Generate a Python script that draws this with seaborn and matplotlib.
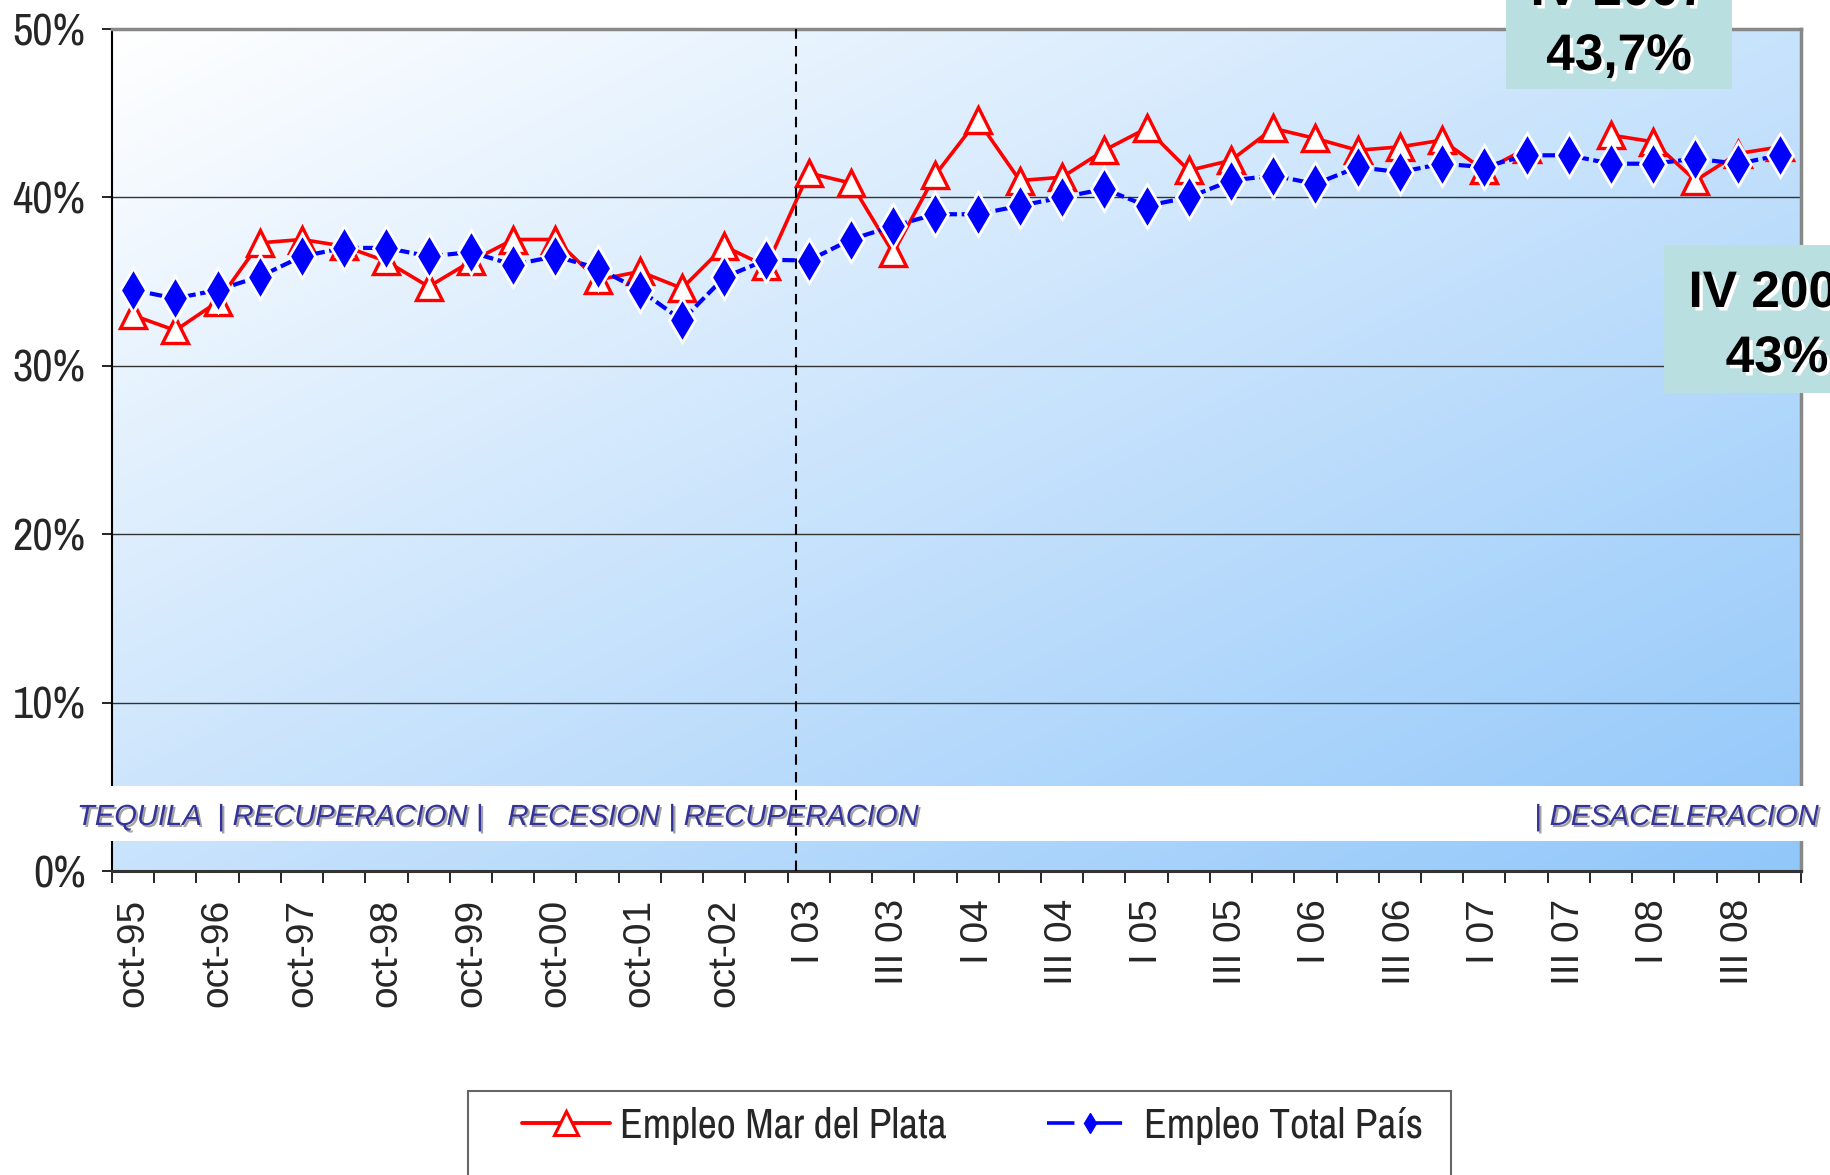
import os
import matplotlib
matplotlib.use('Agg')
import matplotlib.pyplot as plt
import matplotlib.patheffects as pe
import numpy as np
import pandas as pd
import seaborn as sns
from matplotlib import font_manager as fm
from matplotlib.lines import Line2D
from matplotlib.patches import Rectangle
from matplotlib.transforms import blended_transform_factory

# ======== Datos ========

periodos = ['oct-95', 'may-96', 'oct-96', 'may-97', 'oct-97', 'may-98', 'oct-98', 'may-99',
            'oct-99', 'may-00', 'oct-00', 'may-01', 'oct-01', 'may-02', 'oct-02', 'may-03',
            'I 03', 'II 03', 'III 03', 'IV 03', 'I 04', 'II 04', 'III 04', 'IV 04',
            'I 05', 'II 05', 'III 05', 'IV 05', 'I 06', 'II 06', 'III 06', 'IV 06',
            'I 07', 'II 07', 'III 07', 'IV 07', 'I 08', 'II 08', 'III 08', 'IV 08']

# tasa de empleo (%)
mar_del_plata = [33.0, 32.1, 33.8, 37.3, 37.5, 37.1, 36.2, 34.7, 36.2, 37.5,
                 37.5, 35.1, 35.6, 34.6, 37.1, 35.9, 41.45, 40.85, 36.7, 41.35,
                 44.6, 41.0, 41.2, 42.8, 44.1, 41.6, 42.2, 44.1, 43.5, 42.8,
                 43.0, 43.4, 41.6, 42.9, np.nan, 43.7, 43.3, 41.0, 42.6, 43.0]

total_pais = [34.5, 34.0, 34.5, 35.3, 36.5, 37.0, 37.0, 36.5, 36.75, 36.0,
              36.5, 35.8, 34.5, 32.7, 35.25, 36.3, 36.25, 37.5, 38.3, 39.0,
              39.0, 39.5, 40.0, 40.5, 39.5, 40.0, 41.0, 41.3, 40.8, 41.8,
              41.5, 42.0, 41.8, 42.5, 42.5, 42.0, 42.0, 42.3, 42.0, 42.5]

ticks_y = [0, 10, 20, 30, 40, 50]

etapas_izq = 'TEQUILA  | RECUPERACION |   RECESION | RECUPERACION'
etapas_der = '| DESACELERACION'

nota_1 = ['IV 2007', '43,7%']
nota_2 = ['IV 2008', '43%']

series = ['Empleo Mar del Plata', 'Empleo Total País']

# ======== Estilo ========

sns.set_theme(style='white')
plt.rcParams['font.family'] = ['Liberation Sans', 'DejaVu Sans']


# busca la fuente más angosta disponible (tipo Arial Narrow)
def rango_fuente(f):
    base = os.path.basename(f.fname)
    if f.style != 'normal' or f.weight not in (400, 'normal', 'regular', 'book'):
        return None
    st = str(f.stretch)
    if 'Narrow' in f.name or 'Narrow' in base:
        return 0
    es_dejavu = 'DejaVu' in f.name
    if 'extra-condensed' in st or 'ultra-condensed' in st or 'ExtraCondensed' in base:
        return 1 if not es_dejavu else 4
    if st == 'condensed' or ('Condensed' in base and 'Semi' not in base):
        return 2 if not es_dejavu else 4
    if 'semi-condensed' in st or 'SemiCondensed' in base:
        return 3
    return None


mejor, rango = None, 9
for f in fm.fontManager.ttflist:
    r = rango_fuente(f)
    if r is not None and r < rango:
        mejor, rango = f.fname, r

tam = {0: (32, 30), 1: (32, 30), 2: (30, 28), 3: (29, 27), 4: (28, 26)}
if mejor is not None:
    fp_ticks = fm.FontProperties(fname=mejor, size=tam[rango][0])
    fp_leg = fm.FontProperties(fname=mejor, size=tam[rango][1])
else:
    fp_ticks = fm.FontProperties(family='Liberation Sans', size=27)
    fp_leg = fm.FontProperties(family='Liberation Sans', size=25)

W, H = 1830, 1175
fig = plt.figure(figsize=(W / 100, H / 100), dpi=100)
fig.patch.set_facecolor('white')
ax = fig.add_axes([112 / W, 1 - 871 / H, (1801 - 112) / W, (871 - 29) / H])

# fondo degradado del área de trazado
n = 256
xx, yy = np.meshgrid(np.linspace(0, 1, n), np.linspace(0, 1, n))
t = ((xx + yy) / 2)[..., None]
c0 = np.array([1.0, 1.0, 1.0])
c1 = np.array([0.57, 0.78, 0.98])
grad = c0 * (1 - t) + c1 * t
ax.imshow(grad, extent=(0, 1, 0, 1), transform=ax.transAxes, aspect='auto',
          zorder=-1, interpolation='bilinear')

# ======== Series ========

idx = np.arange(len(periodos))
df_mdp = pd.DataFrame({'x': idx, 'y': mar_del_plata})
df_mdp['tramo'] = df_mdp['y'].isna().cumsum()
df_mdp = df_mdp.dropna()
df_tot = pd.DataFrame({'x': idx, 'y': total_pais})

sns.lineplot(data=df_mdp, x='x', y='y', units='tramo', estimator=None, ax=ax,
             color='red', lw=2.6, marker='^', ms=19, mfc='white', mec='red',
             mew=2.4, legend=False, zorder=3)
sns.lineplot(data=df_tot, x='x', y='y', ax=ax, color='blue', lw=3.0,
             linestyle=(0, (3.0, 1.1)), marker='d', ms=22, mfc='blue',
             mec='white', mew=2.0, legend=False, zorder=4)

ax.axvline(15.7, color='black', lw=1.5, ls=(0, (5, 3.5)), zorder=4)

# franja blanca con las etapas
band = Rectangle((-0.1, (871 - 841) / 16.84), 1.2, (841 - 786) / 16.84,
                 transform=blended_transform_factory(ax.transAxes, ax.transData),
                 facecolor='white', edgecolor='none', zorder=3, clip_on=False)
ax.add_patch(band)

# ======== Ejes ========

ax.set_xlim(-0.5, len(periodos) - 0.5)
ax.set_ylim(0, 50)
ax.set_xlabel('')
ax.set_ylabel('')

ax.set_yticks(ticks_y)
ax.set_yticklabels([f'{v}%' for v in ticks_y])
for lab in ax.get_yticklabels():
    lab.set_fontproperties(fp_ticks)
ax.tick_params(axis='y', length=7, width=1.2, pad=12, left=True, color='black')

ax.set_xticks(idx[::2])
ax.set_xticklabels(periodos[::2], rotation=90, fontsize=28)
ax.set_xticks(np.arange(-0.5, len(periodos), 1), minor=True)
ax.tick_params(axis='x', which='major', length=0, pad=20)
ax.tick_params(axis='x', which='minor', length=8.5, width=1.2, bottom=True, color='black')

ax.yaxis.grid(True, color='#333333', lw=1.0)
ax.xaxis.grid(False)

for s in ['top', 'right']:
    ax.spines[s].set_color('#888888')
    ax.spines[s].set_linewidth(2.5)
ax.spines['left'].set_color('black')
ax.spines['left'].set_linewidth(1.5)
ax.spines['bottom'].set_color('#333333')
ax.spines['bottom'].set_linewidth(2.2)

# ======== Textos ========

sombra_gris = [pe.withSimplePatchShadow(offset=(1.5, -1.5), shadow_rgbFace='#999999', alpha=0.9)]
fig.text(77 / W, 1 - 825 / H, etapas_izq, ha='left', va='baseline', fontsize=21,
         style='italic', color='#333399', path_effects=sombra_gris, zorder=6)
fig.text(1818 / W, 1 - 825 / H, etapas_der, ha='right', va='baseline', fontsize=21,
         style='italic', color='#333399', path_effects=sombra_gris, zorder=6)

sombra_blanca = [pe.withSimplePatchShadow(offset=(2.5, -2.5), shadow_rgbFace='white', alpha=1)]
caja = '#badfe1'
fig.add_artist(Rectangle((1506 / W, 1 - 89 / H), (1732 - 1506) / W, 0.2,
                         transform=fig.transFigure, facecolor=caja, edgecolor='none', zorder=5))
fig.add_artist(Rectangle((1664 / W, 1 - 393 / H), 0.2, (393 - 245) / H,
                         transform=fig.transFigure, facecolor=caja, edgecolor='none', zorder=5))
for txt, yb in zip(nota_1, [5, 70]):
    fig.text(1619 / W, 1 - yb / H, txt, ha='center', va='baseline', fontsize=37,
             fontweight='bold', color='black', path_effects=sombra_blanca, zorder=6)
for txt, yb in zip(nota_2, [307, 372]):
    fig.text(1777 / W, 1 - yb / H, txt, ha='center', va='baseline', fontsize=37,
             fontweight='bold', color='black', path_effects=sombra_blanca, zorder=6)

# ======== Leyenda ========

fig.add_artist(Rectangle((468 / W, -0.1), (1451 - 468) / W, 0.1 + 1 - 1091 / H,
                         transform=fig.transFigure, facecolor='white',
                         edgecolor='#666666', lw=1.5, zorder=4))
handles = [
    Line2D([], [], color='red', lw=2.8, marker='^', ms=17, mfc='white', mec='red', mew=2.2),
    Line2D([], [], color='blue', lw=2.6, ls=(0, (7.6, 5.6)), marker='d', ms=10,
           mfc='blue', mec='blue'),
]
leg = fig.legend(handles, series, loc='center left', bbox_to_anchor=(522 / W, 1 - 1126 / H),
                 ncol=2, frameon=False, borderpad=0, borderaxespad=0, handlelength=2.1,
                 handletextpad=0.25, columnspacing=2.4, prop=fp_leg)
leg.set_zorder(6)

fig.savefig('out.png', dpi=100)
